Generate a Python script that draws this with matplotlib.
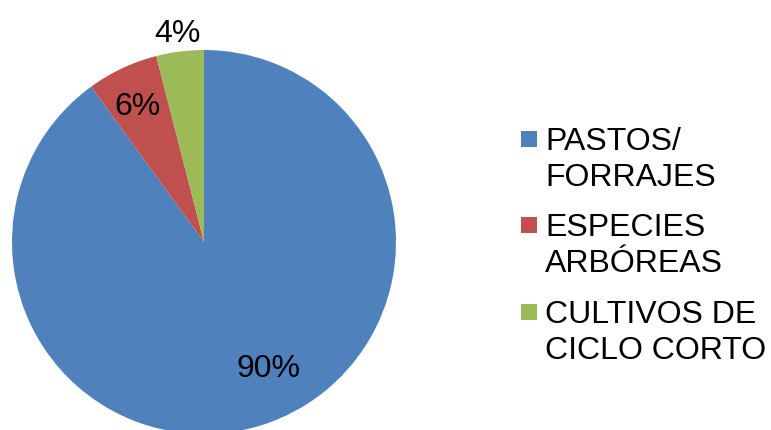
import matplotlib
matplotlib.use("Agg")
import matplotlib.pyplot as plt
from matplotlib.patches import Rectangle

categories = ["PASTOS/\nFORRAJES", "ESPECIES\nARBÓREAS", "CULTIVOS DE\nCICLO CORTO"]
values = [90, 6, 4]
colors = ["#4F81BD", "#C0504D", "#9BBB59"]

W, H = 771, 431
fig = plt.figure(figsize=(W / 100, H / 100), dpi=100)
plt.rcParams['font.family'] = ['Liberation Sans', 'DejaVu Sans']

cx, cy, r = 204, 243, 192
ax = fig.add_axes([(cx - r) / W, (H - (cy + r)) / H, 2 * r / W, 2 * r / H])
wedges, texts, autotexts = ax.pie(values, colors=colors, startangle=90, counterclock=False,
                                  radius=1, autopct='%1.0f%%',
                                  wedgeprops=dict(linewidth=0),
                                  textprops=dict(fontsize=23, color='black'))
ax.set_xlim(-1, 1)
ax.set_ylim(-1, 1)
ax.axis('off')

# label positions (pixel coords of text centre x, baseline y)
label_pos = [(268.5, 377), (137.5, 115), (177.5, 41.5)]
for t, (px, py) in zip(autotexts, label_pos):
    t.set_position(((px - cx) / r, (cy - py) / r))
    t.set_ha('center')
    t.set_va('baseline')

# legend drawn manually
sq_tops = [132, 218, 305]
baselines = [150, 236.5, 323.5]
line_pitch = 35.5
for cat, col, top, base in zip(categories, colors, sq_tops, baselines):
    fig.patches.append(Rectangle((521 / W, (H - top - 16) / H), 16 / W, 16 / H,
                                 transform=fig.transFigure, facecolor=col, edgecolor='none'))
    for i, line in enumerate(cat.split("\n")):
        fig.text(545 / W, (H - (base + i * line_pitch)) / H, line, fontsize=23,
                 ha='left', va='baseline', color='black')

fig.savefig("out.png", dpi=100)
